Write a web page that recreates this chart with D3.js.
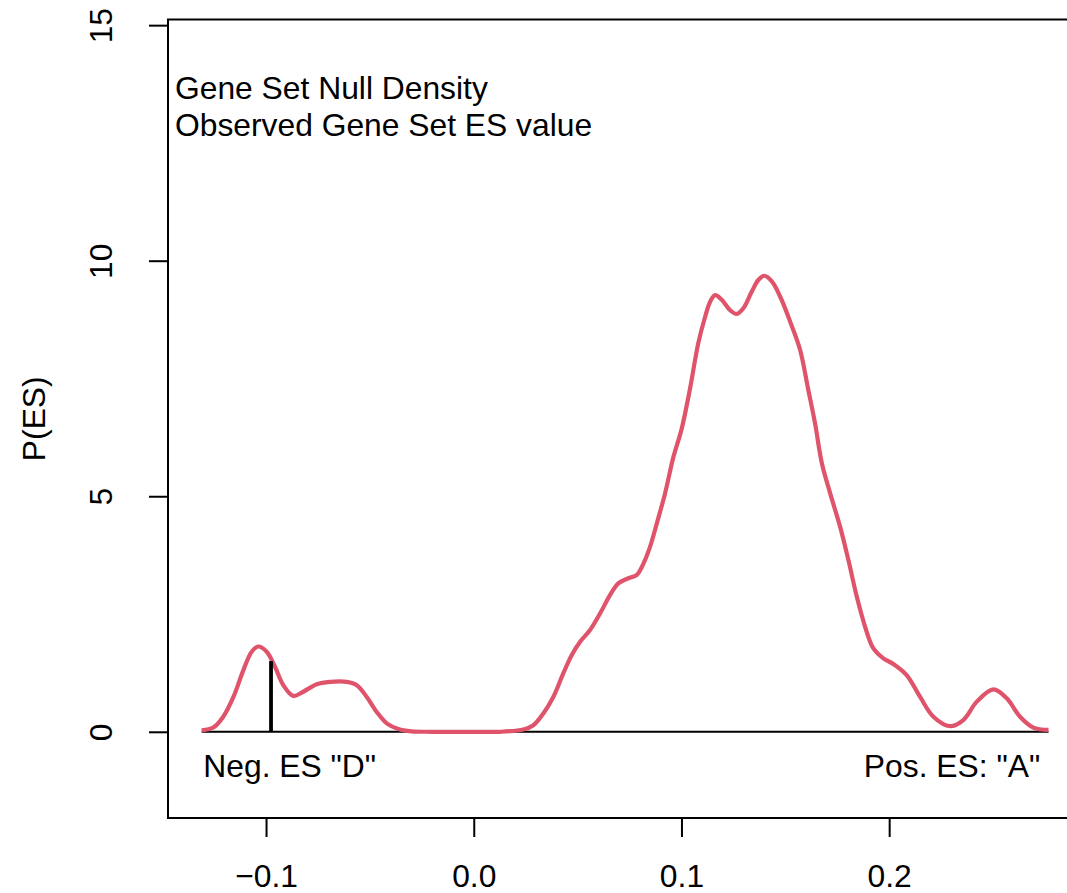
<!DOCTYPE html>
<html>
<head>
<meta charset="utf-8">
<script src="https://cdn.jsdelivr.net/npm/d3@7"></script>
<style>
    body { margin: 0; background: #fff; }
    text { font-family: "Liberation Sans", Arial, sans-serif; fill: #000; }
</style>
</head>
<body>
<div id="chart"></div>
<script>
// null density of the gene set ES
const esX = [-0.1310, -0.1254, -0.1206, -0.1157, -0.1109, -0.1069, -0.1037, -0.0997, -0.0957, -0.0917,
    -0.0869, -0.0821, -0.0756, -0.0692, -0.0611, -0.0563, -0.0515, -0.0467, -0.0419, -0.0363,
    -0.0300, -0.0200, 0.0000, 0.0127, 0.0239, 0.0287, 0.0335, 0.0383, 0.0431, 0.0472,
    0.0512, 0.0560, 0.0608, 0.0656, 0.0696, 0.0744, 0.0785, 0.0817, 0.0849, 0.0881,
    0.0921, 0.0961, 0.1001, 0.1041, 0.1081, 0.1114, 0.1138, 0.1162, 0.1194, 0.1234,
    0.1266, 0.1298, 0.1338, 0.1370, 0.1399, 0.1435, 0.1475, 0.1523, 0.1571, 0.1611,
    0.1643, 0.1676, 0.1716, 0.1764, 0.1804, 0.1844, 0.1884, 0.1924, 0.1972, 0.2020,
    0.2085, 0.2149, 0.2213, 0.2293, 0.2357, 0.2422, 0.2502, 0.2566, 0.2630, 0.2694, 0.2767];
const esDensity = [0.03, 0.09, 0.32, 0.74, 1.31, 1.70, 1.81, 1.70, 1.38, 0.99,
    0.76, 0.85, 1.01, 1.06, 1.06, 0.99, 0.74, 0.42, 0.18, 0.06,
    0.01, 0.00, 0.00, 0.00, 0.05, 0.14, 0.39, 0.74, 1.24, 1.63,
    1.91, 2.16, 2.51, 2.90, 3.15, 3.26, 3.33, 3.57, 3.93, 4.42,
    5.06, 5.83, 6.43, 7.28, 8.25, 8.81, 9.13, 9.27, 9.17, 8.95,
    8.87, 8.99, 9.34, 9.59, 9.68, 9.56, 9.24, 8.71, 8.11, 7.25,
    6.55, 5.70, 5.06, 4.35, 3.64, 2.87, 2.23, 1.77, 1.56, 1.44,
    1.20, 0.74, 0.32, 0.12, 0.25, 0.64, 0.90, 0.71, 0.32, 0.09, 0.04];

// observed ES and the height of its marker
const observedES = [-0.0976];
const observedHeight = [1.50];

const xTicks = [-0.1, 0.0, 0.1, 0.2];
const yTicks = [0, 5, 10, 15];
const legendLines = ["Gene Set Null Density", "Observed Gene Set ES value"];
const negLabel = 'Neg. ES "D"';
const posLabel = 'Pos. ES: "A"';

const width = 1067, height = 893;
const fontSize = "31.8px";

const svg = d3.select("#chart").append("svg")
    .attr("width", width)
    .attr("height", height);

svg.append("rect").attr("width", width).attr("height", height).attr("fill", "#fff");

const x = d3.scaleLinear().domain([-0.1472, 0.2938]).range([168, 1084]);
const y = d3.scaleLinear().domain([-1.83, 15.12]).range([818, 19.5]);

// zero line under the density
svg.append("line")
    .attr("x1", x(d3.min(esX)))
    .attr("x2", x(d3.max(esX)))
    .attr("y1", y(0))
    .attr("y2", y(0))
    .attr("stroke", "#000")
    .attr("stroke-width", 2);

const points = esX.map((v, i) => [v, esDensity[i]]);
const line = d3.line()
    .x(d => x(d[0]))
    .y(d => y(d[1]))
    .curve(d3.curveCatmullRom.alpha(0.5));

svg.append("path")
    .attr("d", line(points))
    .attr("fill", "none")
    .attr("stroke", "#DF536B")
    .attr("stroke-width", 4.2)
    .attr("stroke-linejoin", "round");

svg.selectAll("line.obs")
    .data(observedES)
    .enter().append("line")
    .attr("class", "obs")
    .attr("x1", d => x(d))
    .attr("x2", d => x(d))
    .attr("y1", y(0))
    .attr("y2", (d, i) => y(observedHeight[i]))
    .attr("stroke", "#000")
    .attr("stroke-width", 3.8);

// plot box
svg.append("rect")
    .attr("x", 168)
    .attr("y", 19.5)
    .attr("width", 1084 - 168)
    .attr("height", 818 - 19.5)
    .attr("fill", "none")
    .attr("stroke", "#000")
    .attr("stroke-width", 2);

// x axis
const xAxis = svg.append("g")
    .attr("transform", "translate(0,818)")
    .call(d3.axisBottom(x).tickValues(xTicks).tickSize(19).tickPadding(0).tickFormat(d3.format(".1f")));
xAxis.select(".domain").remove();
xAxis.selectAll(".tick line").attr("stroke", "#000").attr("stroke-width", 2);
xAxis.selectAll("text")
    .attr("y", 69)
    .attr("dy", null)
    .style("font-size", fontSize)
    .attr("fill", "#000");

// y axis, labels rotated like base R
const yAxis = svg.append("g")
    .attr("transform", "translate(168,0)")
    .call(d3.axisLeft(y).tickValues(yTicks).tickSize(19).tickFormat(d3.format("d")));
yAxis.select(".domain").remove();
yAxis.selectAll(".tick line").attr("stroke", "#000").attr("stroke-width", 2);
yAxis.selectAll("text")
    .attr("transform", "rotate(-90)")
    .attr("x", 0)
    .attr("y", -56)
    .attr("dy", null)
    .attr("text-anchor", "middle")
    .style("font-size", fontSize)
    .attr("fill", "#000");

svg.append("text")
    .attr("transform", `translate(45,${(19.5 + 818) / 2}) rotate(-90)`)
    .attr("text-anchor", "middle")
    .style("font-size", fontSize)
    .text("P(ES)");

// legend text
svg.selectAll("text.legend")
    .data(legendLines)
    .enter().append("text")
    .attr("class", "legend")
    .attr("x", 175)
    .attr("y", (d, i) => 99 + i * 37)
    .style("font-size", fontSize)
    .text(d => d);

svg.append("text")
    .attr("x", x(-0.1302))
    .attr("y", 777)
    .style("font-size", fontSize)
    .text(negLabel);

svg.append("text")
    .attr("x", x(0.2727))
    .attr("y", 777)
    .attr("text-anchor", "end")
    .style("font-size", fontSize)
    .text(posLabel);
</script>
</body>
</html>
